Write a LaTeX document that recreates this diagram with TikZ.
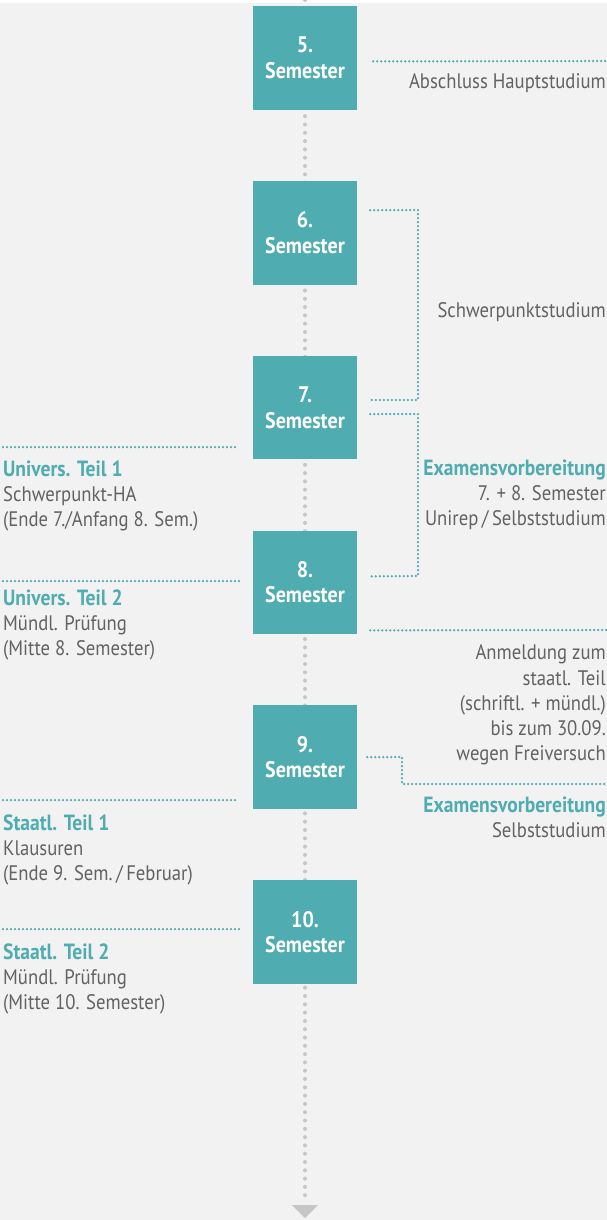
\documentclass[tikz,border=0pt]{standalone}
\usepackage{fontspec}
\setmainfont[FakeStretch=0.89]{PT Sans}
\usetikzlibrary{calc}
\definecolor{bgc}{HTML}{F2F2F2}
\definecolor{teal}{HTML}{4FACB1}
\definecolor{txt}{HTML}{626262}
\definecolor{dotg}{HTML}{C6C6C6}
\tikzset{
  x=1pt, y=-1pt,
  sembox/.style={fill=teal, minimum width=104pt, minimum height=103.5pt, inner sep=0pt, anchor=north,
    text=white, font=\fontsize{22.5}{25.5}\selectfont\bfseries, align=center},
  tdot/.style={draw=teal, line width=2.5pt, line cap=round, dash pattern=on 0pt off 4pt},
  gdot/.style={draw=dotg, line width=4pt, line cap=round, dash pattern=on 0pt off 8.3pt},
  lbl/.style={text=txt, font=\fontsize{21}{25}\selectfont, inner sep=0pt},
  hdl/.style={text=teal, font=\fontsize{22}{25}\selectfont\bfseries, inner sep=0pt},
}
\begin{document}
\begin{tikzpicture}
\useasboundingbox (0,0) rectangle (607,1220);
\fill[bgc] (0,0) rectangle (607,1220);
\fill[white] (0,0) rectangle (607,3);
% timeline
\coordinate (tl0) at (305,0);
\coordinate (tl1) at (305,1202);
\draw[gdot] (tl0) -- (tl1);
\fill[dotg] (292,1205) -- (318,1205) -- (305,1218) -- cycle;
% boxes
\foreach \n [count=\i from 0] in {5,6,7,8,9,10}{
  \node[sembox] (b\n) at (305,{6+\i*174.8}) {\n.\\Semester};
}
% right connectors
\coordinate (r5a) at ($(b5.east)+(16,3.5)$);
\coordinate (r5b) at (607,61);
\draw[tdot] (r5a) -- (r5b);
\node[lbl, anchor=base east] (t5) at (606,89) {Abschluss Hauptstudium};

\coordinate (r6a) at ($(b6.east)+(13,-22.5)$);
\coordinate (r6b) at (418,210);
\coordinate (r6c) at (418,400);
\coordinate (r6d) at ($(b7.east)+(13,-7.5)$);
\draw[tdot] (r6a) -- (r6b) -- (r6c) -- (r6d);
\node[lbl, anchor=base east] (t6) at (606,317) {Schwerpunktstudium};

\coordinate (r7a) at ($(b7.east)+(13,6.5)$);
\coordinate (r7b) at (418,414);
\coordinate (r7c) at (418,576);
\coordinate (r7d) at ($(b8.east)+(13,-6)$);
\draw[tdot] (r7a) -- (r7b) -- (r7c) -- (r7d);
\node[hdl, anchor=base east] (t7a) at (606,475) {Examensvorbereitung};
\node[lbl, anchor=base east] (t7b) at (606,500) {7. + 8. Semester};
\node[lbl, anchor=base east] (t7c) at (606,525) {Unirep\,/\,Selbststudium};

\coordinate (r8a) at ($(b8.east)+(13,48)$);
\coordinate (r8b) at (607,630);
\draw[tdot] (r8a) -- (r8b);
\node[lbl, anchor=base east] (t8a) at (606,659) {Anmeldung zum};
\node[lbl, anchor=base east] (t8b) at (606,685) {staatl. Teil};
\node[lbl, anchor=base east] (t8c) at (606,710) {(schriftl. + mündl.)};
\node[lbl, anchor=base east] (t8d) at (606,735) {bis zum 30.09.};
\node[lbl, anchor=base east] (t8e) at (606,760) {wegen Freiversuch};

\coordinate (r9a) at ($(b9.east)+(10,0)$);
\coordinate (r9b) at (402,757);
\coordinate (r9c) at (402,784);
\coordinate (r9d) at (607,784);
\draw[tdot] (r9a) -- (r9b) -- (r9c) -- (r9d);
\node[hdl, anchor=base east] (t9a) at (606,812) {Examensvorbereitung};
\node[lbl, anchor=base east] (t9b) at (606,837) {Selbststudium};

% left connectors
\coordinate (l1a) at (3,447);
\coordinate (l1b) at ($(b7.west |- l1a)+(-16,0)$);
\draw[tdot] (l1a) -- (l1b);
\node[hdl, anchor=base west] (u1a) at (3,476) {Univers. Teil 1};
\node[lbl, anchor=base west] (u1b) at (3,501) {Schwerpunkt-HA};
\node[lbl, anchor=base west] (u1c) at (3,526) {(Ende 7./Anfang 8. Sem.)};

\coordinate (l2a) at (3,581);
\coordinate (l2b) at ($(b8.west |- l2a)+(-13,0)$);
\draw[tdot] (l2a) -- (l2b);
\node[hdl, anchor=base west] (u2a) at (3,605) {Univers. Teil 2};
\node[lbl, anchor=base west] (u2b) at (3,630) {Mündl. Prüfung};
\node[lbl, anchor=base west] (u2c) at (3,655) {(Mitte 8. Semester)};

\coordinate (l3a) at (3,800);
\coordinate (l3b) at ($(b9.west |- l3a)+(-16,0)$);
\draw[tdot] (l3a) -- (l3b);
\node[hdl, anchor=base west] (s1a) at (3,830) {Staatl. Teil 1};
\node[lbl, anchor=base west] (s1b) at (3,855) {Klausuren};
\node[lbl, anchor=base west] (s1c) at (3,880) {(Ende 9. Sem.\,/\,Februar)};

\coordinate (l4a) at (3,929);
\coordinate (l4b) at ($(b10.west |- l4a)+(-13,0)$);
\draw[tdot] (l4a) -- (l4b);
\node[hdl, anchor=base west] (s2a) at (3,959) {Staatl. Teil 2};
\node[lbl, anchor=base west] (s2b) at (3,984) {Mündl. Prüfung};
\node[lbl, anchor=base west] (s2c) at (3,1009) {(Mitte 10. Semester)};
\end{tikzpicture}
\end{document}
